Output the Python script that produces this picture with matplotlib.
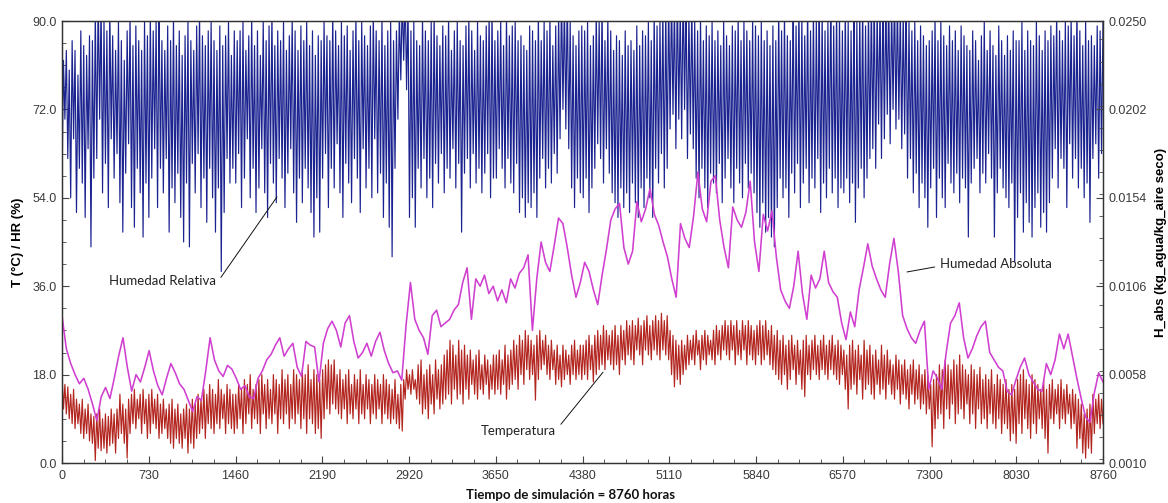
import numpy as np
import matplotlib
matplotlib.use("Agg")
import matplotlib.pyplot as plt
from matplotlib.ticker import MultipleLocator, FixedLocator, FormatStrFormatter

# ---------------- data ----------------
# Relative humidity (%): daily trough / peak pairs, one row per month
hr_values = [
    56,82, 70,84, 62,80, 54,86, 66,84, 51,79, 60,88, 57,85, 50,83, 64,87, 44,86, 58,92, 62,96, 70,94, 55,90, 61,88, 52,93, 66,87, 58,84, 63,90, 53,86, 47,82, 59,88, 65,91, 52,85, 48,89, 60,86, 55,84, 46,90, 57,87,
    50,92, 58,88, 64,90, 52,95, 60,86, 55,84, 62,89, 47,86, 56,91, 53,85, 59,88, 50,83, 45,87, 57,90, 44,86, 61,84, 55,89, 63,92, 52,87, 58,85, 49,88, 60,90, 54,86, 47,84, 56,89, 39,85, 51,87, 62,90, 57,83, 60,88,
    57,86, 63,88, 52,90, 58,84, 66,87, 54,91, 60,85, 51,88, 56,83, 64,90, 55,86, 50,89, 61,92, 57,85, 53,88, 62,86, 58,90, 52,84, 59,87, 64,91, 55,88, 49,84, 58,89, 53,86, 60,90, 56,85, 51,88, 46,83, 54,87, 47,86,
    58,90, 63,87, 52,86, 60,92, 56,88, 65,85, 55,90, 50,87, 61,89, 57,84, 53,88, 62,91, 58,86, 51,90, 64,87, 56,85, 60,89, 54,92, 66,88, 55,86, 59,91, 50,85, 57,88, 48,90, 42,86, 60,88, 70,92, 78,95, 82,96, 76,94,
    50,88, 54,90, 48,86, 60,85, 56,91, 62,88, 54,86, 58,90, 52,92, 61,87, 57,85, 63,89, 55,87, 60,91, 58,84, 64,88, 56,90, 61,86, 47,85, 59,89, 62,91, 56,88, 63,84, 57,90, 60,87, 55,86, 59,89, 63,92, 54,93, 58,86,
    58,88, 64,90, 60,85, 56,91, 62,87, 57,89, 55,90, 61,86, 51,87, 54,85, 50,84, 53,89, 52,88, 55,86, 50,92, 58,86, 62,90, 56,88, 60,91, 57,85, 63,89, 59,92, 66,96, 72,94, 68,97, 64,90, 56,87, 52,85, 58,88, 55,89,
    54,88, 58,90, 51,85, 56,87, 60,92, 65,90, 62,94, 57,86, 64,91, 59,88, 55,84, 53,87, 50,86, 56,83, 52,88, 55,85, 51,86, 57,84, 53,89, 50,85, 56,88, 52,87, 58,90, 54,86, 50,92, 60,89, 57,90, 63,93, 56,94, 60,96,
    68,96, 71,94, 64,97, 70,93, 66,98, 72,95, 62,92, 67,94, 64,90, 58,88, 54,91, 60,86, 56,89, 52,87, 59,90, 57,86, 55,88, 61,85, 53,90, 58,87, 62,85, 56,89, 53,88, 60,91, 57,86, 54,90, 61,88, 56,86, 59,90, 55,89,
    51,87, 48,90, 53,86, 47,88, 50,85, 46,89, 44,86, 52,93, 58,88, 54,92, 56,87, 50,86, 59,95, 55,89, 61,94, 52,91, 57,87, 60,94, 53,88, 58,92, 56,90, 62,95, 51,92, 57,88, 54,90, 60,96, 55,89, 58,93, 52,91, 56,88,
    55,93, 58,90, 53,88, 57,95, 49,90, 56,92, 60,94, 54,89, 58,93, 62,95, 64,96, 60,93, 69,94, 62,97, 66,95, 71,96, 65,94, 72,97, 68,95, 70,93, 64,92, 67,96, 58,90, 62,88, 55,90, 59,86, 52,89, 57,87, 54,85, 48,86,
    56,88, 60,91, 50,86, 58,90, 54,87, 52,85, 61,89, 57,86, 55,88, 59,84, 53,89, 58,87, 56,85, 46,84, 57,88, 60,86, 62,82, 55,87, 59,90, 57,84, 63,88, 58,85, 46,83, 55,89, 60,86, 56,83, 54,87, 52,84, 57,88, 41,86,
    50,86, 55,90, 47,84, 53,88, 49,86, 46,85, 52,90, 55,87, 48,84, 51,88, 47,86, 53,89, 58,87, 64,92, 56,88, 62,86, 60,90, 52,89, 65,91, 58,87, 62,93, 56,88, 60,85, 54,90, 57,86, 49,87, 62,85, 65,89, 58,88, 63,90,
]

# Temperature (deg C): daily peak / trough pairs, one row per month
temp_values = [
    18,11, 16,10, 15.5,9, 14,8, 15,7, 13,8, 12,6, 13,5, 11,6, 12,4.5, 10,4, 9.5,0.5, 10,3, 11,2.5, 9,3, 10,2, 9.5,3.5, 11,4, 10,2, 11,5, 14,6, 12,4, 11,1, 13,6, 14,8, 15,7, 13,9, 14,6, 15,8, 13,5,
    14,6, 15,8, 13,7, 14,5, 12,6, 13,7, 11,5, 12,4, 13,3, 11,5, 12,4, 10,3, 11,5, 12,2, 11,4, 13,3, 12,5, 14,6, 13,7, 15,5, 14,8, 16,7, 15,6, 14,8, 17,7, 15,9, 14,6, 16,8, 15,7, 14,6,
    14,7, 16,9, 15,6, 17,8, 16,10, 18,7, 15,9, 16,8, 17,6, 18,10, 16,7, 17,9, 15,8, 18,10, 17,6, 16,9, 19,8, 17,10, 18,7, 16,9, 19,8, 18,10, 17,7, 19,9, 18,6, 20,9, 17,8, 19,6, 18,7, 17,5,
    19,9, 20,11, 21,10, 20,12, 21,11, 18,10, 19,9, 17,11, 18,8, 19,10, 16,9, 18,11, 17,8, 19,10, 16,9, 18,11, 17,8, 16,10, 18,9, 17,11, 16,8, 18,10, 17,9, 16,8, 15,9, 17,8, 14,7, 16,6.5, 17,13, 19,15,
    18,14, 19,15, 17,13, 20,12, 21,10, 18,11, 19,9, 20,12, 18,10, 21,13, 19,11, 20,12, 22,13, 23,14, 25,12, 24,15, 22,13, 25,14, 23,12, 24,15, 22,13, 23,16, 21,14, 22,13, 23,15, 20,14, 22,16, 21,13, 20,15, 22,14,
    22,15, 23,14, 21,16, 24,13, 22,15, 23,16, 25,17, 24,15, 26,18, 25,16, 27,19, 26,17, 25,18, 24,12.8, 26,17, 27,19, 25,20, 26,18, 24,17, 25,19, 23,16, 24,17, 22,15.5, 24,17, 23,18, 22,16, 24,18, 25,17, 23,18, 24,17,
    24,18, 25,17, 26,19, 24,16.5, 26,18, 27,19, 26,20, 28,19, 27,21, 26,20, 27,19, 28,20, 26,18, 28,21, 27,20, 29,22, 28,21, 29,20, 28,23, 29.5,22, 28,20, 29,23, 30,22, 28,21, 29,23, 30,22, 29,21, 30.5,23, 29,22, 30,21,
    27,18, 26,15.5, 25,17, 24,16, 25,18, 24,19, 26,20, 25,21, 26,20, 27,22, 25,19, 26,21, 27,20, 26,22, 25,21, 27,20, 28,22, 27,21, 28,23, 29,22, 28,21, 29,23, 28,20, 29,22, 27,21, 29,23, 28,20, 29,22, 28,21, 27,20,
    28,22, 29,20, 28,21, 29,22, 27,20, 28,19, 26,18, 27,17, 25,16, 26,18, 24,15, 25,17, 26,19, 24,16, 25,18, 23,15, 25,13.5, 26,18, 24,17, 25,19, 26,18, 24,17, 25,19, 26,18, 24,17, 25,19, 26,18, 24,17, 25,16, 24,18,
    23,15, 22,11, 24,15, 25,16, 23,14, 24,17, 22,13, 25,15, 23,16, 24,14, 22,13, 23,16, 21,14, 24,15, 22,13, 23,16, 21,14, 20,13, 22,15, 21,12, 20,14, 21,13, 19,11, 20,14, 21,12, 19,13, 20,11, 18,12, 19,10, 18,11,
    16,3.3, 17,7, 18,9, 20,10, 19,7, 21,11, 20,9, 19,12, 21,8, 20,10, 22,11, 20,9, 19,12, 18,8, 20,10, 19,7, 18,11, 19.5,8, 17,9, 18,7, 17,10, 19,8, 16,7, 18,9, 17,6, 16,8, 17,7, 15,4.5, 16,6, 15,4,
    17,8, 18,6, 19,9, 17,7, 16,5, 18,8, 17,6, 16,9, 15,7, 17,5, 15,2, 16,9, 17,8, 15,10, 16,7, 17,9, 15,8, 16,10, 14,7, 15,8, 14,3, 13,5, 12,2, 10,1, 11,3, 12,2, 14,6, 13,8, 14,7, 13,8,
]

# Absolute humidity (g water / kg dry air)
habs_gkg = [
    9.0, 7.2, 6.4, 5.8, 5.3, 5.6, 5.0, 4.2, 3.3, 4.6, 5.1, 4.5, 5.6, 6.8, 7.8, 6.2, 4.9, 5.8, 5.4, 6.2,
    7.1, 6.0, 5.2, 4.7, 5.6, 6.4, 5.9, 5.3, 5.0, 4.4, 3.8, 4.6, 4.4, 6.0, 7.8, 6.6, 6.0, 5.7, 6.3, 6.1,
    5.6, 5.0, 5.2, 4.6, 4.5, 5.6, 6.0, 6.6, 6.9, 7.4, 7.8, 6.8, 7.2, 7.5, 6.2, 5.7, 7.6, 7.4, 7.3, 5.4,
    7.5, 8.3, 8.7, 8.2, 7.3, 8.6, 9.0, 7.6, 6.7, 7.0, 7.5, 6.8, 7.6, 8.1, 7.1, 6.4, 5.9, 6.0, 5.5, 8.5,
    10.8, 8.8, 8.2, 7.8, 6.9, 9.0, 9.3, 8.4, 8.6, 8.8, 9.3, 9.6, 10.8, 11.6, 8.8, 11.0, 10.6, 11.2, 10.2, 10.6,
    9.8, 10.4, 9.7, 11.0, 10.5, 11.3, 11.6, 12.3, 8.2, 11.0, 13.0, 11.9, 11.4, 12.8, 14.3, 14.0, 12.7, 11.2, 10.0, 10.8,
    11.9, 11.4, 10.4, 9.6, 11.2, 12.6, 14.2, 14.8, 15.1, 12.7, 11.8, 12.5, 15.2, 14.1, 14.8, 15.9, 14.5, 13.9, 13.0, 12.2,
    11.0, 10.0, 14.0, 13.2, 12.7, 14.4, 16.8, 14.8, 14.1, 16.3, 16.6, 14.2, 12.7, 11.6, 14.9, 14.2, 13.8, 14.6, 16.3, 13.0,
    11.4, 14.5, 13.6, 14.7, 12.2, 10.4, 9.8, 9.4, 10.6, 12.5, 10.2, 8.8, 11.2, 10.5, 11.0, 12.5, 10.8, 10.3, 10.0, 8.6,
    7.7, 9.2, 8.4, 10.4, 11.6, 12.9, 11.7, 11.0, 10.4, 10.0, 11.8, 13.2, 11.4, 9.0, 8.3, 7.8, 7.5, 8.2, 8.7, 5.0,
    6.0, 5.6, 5.0, 7.0, 8.6, 9.0, 9.7, 7.8, 6.7, 7.2, 7.9, 8.4, 8.7, 7.0, 6.6, 6.2, 6.0, 4.9, 4.7, 5.5,
    6.2, 6.7, 5.8, 5.4, 5.0, 4.9, 6.4, 5.8, 6.6, 8.0, 7.2, 8.0, 6.8, 5.6, 4.5, 3.5, 3.2, 4.8, 5.9, 5.4,
]

x_ticks = [0, 730, 1460, 2190, 2920, 3650, 4380, 5110, 5840, 6570, 7300, 8030, 8760]
left_ticks = [0.0, 18.0, 36.0, 54.0, 72.0, 90.0]
right_ticks = [0.0010, 0.0058, 0.0106, 0.0154, 0.0202, 0.0250]
total_hours = 8760

# ---------------- figure ----------------
fig = plt.figure(figsize=(11.68, 5.03), dpi=100)
ax = fig.add_axes([62 / 1168, 40 / 503, 1041 / 1168, 442 / 503])
ax2 = ax.twinx()

x_hr = np.linspace(0, total_hours, len(hr_values))
x_t = np.linspace(0, total_hours, len(temp_values))
x_h = np.linspace(0, total_hours, len(habs_gkg))

ax.plot(x_hr, hr_values, color="#1b2390", lw=0.85)
ax.plot(x_t, temp_values, color="#b3251f", lw=0.85)
ax2.plot(x_h, np.array(habs_gkg) / 1000.0, color="#d040d0", lw=1.15)

ax.set_xlim(0, total_hours)
ax.set_ylim(0, 90)
ax2.set_ylim(0.001, 0.025)

tick_color = "#3a3a3a"
ax.xaxis.set_major_locator(FixedLocator(x_ticks))
ax.xaxis.set_minor_locator(MultipleLocator(182.5))
ax.yaxis.set_major_locator(FixedLocator(left_ticks))
ax.yaxis.set_minor_locator(MultipleLocator(4.5))
ax.yaxis.set_major_formatter(FormatStrFormatter("%.1f"))
ax2.yaxis.set_major_locator(FixedLocator(right_ticks))
ax2.yaxis.set_minor_locator(MultipleLocator(0.0012))
ax2.yaxis.set_major_formatter(FormatStrFormatter("%.4f"))

for a in (ax, ax2):
    a.tick_params(which="both", direction="in", colors="#444444", labelcolor=tick_color,
                  labelsize=9)
    a.tick_params(which="major", length=5, width=0.8)
    a.tick_params(which="minor", length=3, width=0.6)
    for s in a.spines.values():
        s.set_color("#333333")
        s.set_linewidth(0.9)
ax.tick_params(axis="x", pad=5)
ax.tick_params(axis="y", pad=4)
ax2.tick_params(axis="y", pad=4)
for lab in ax.get_xticklabels() + ax.get_yticklabels() + ax2.get_yticklabels():
    lab.set_family("Liberation Sans")

ax.set_ylabel("T (°C) / HR (%)", fontsize=9.5, fontweight="bold", family="Liberation Sans",
              labelpad=6)
ax2.set_ylabel("H_abs (kg_agua/kg_aire seco)", fontsize=9.5, fontweight="bold",
               family="Liberation Sans", labelpad=6)
fig.text(570 / 1168, 1 - 495 / 503, "Tiempo de simulación = 8760 horas", ha="center",
         va="center", fontsize=9.5, fontweight="bold", family="Lato", color="#111111")

ann_kw = dict(fontsize=9.5, family="Lato", color="#222222")
ax.annotate("Humedad Relativa", xy=(1809, 54.2), xytext=(1300, 37.0), ha="right", va="center",
            arrowprops=dict(arrowstyle="-", color="#111111", lw=0.7, relpos=(1.0, 0.3),
                            shrinkA=2, shrinkB=0), **ann_kw)
ax.annotate("Temperatura", xy=(4553, 18.5), xytext=(4160, 6.5), ha="right", va="center",
            arrowprops=dict(arrowstyle="-", color="#111111", lw=0.7, relpos=(1.0, 0.6),
                            shrinkA=2, shrinkB=0), **ann_kw)
ax.annotate("Humedad Absoluta", xy=(7111, 38.9), xytext=(7390, 40.6), ha="left", va="center",
            arrowprops=dict(arrowstyle="-", color="#111111", lw=0.7, relpos=(0.0, 0.3),
                            shrinkA=2, shrinkB=0), **ann_kw)

fig.savefig("out.png", dpi=100)
